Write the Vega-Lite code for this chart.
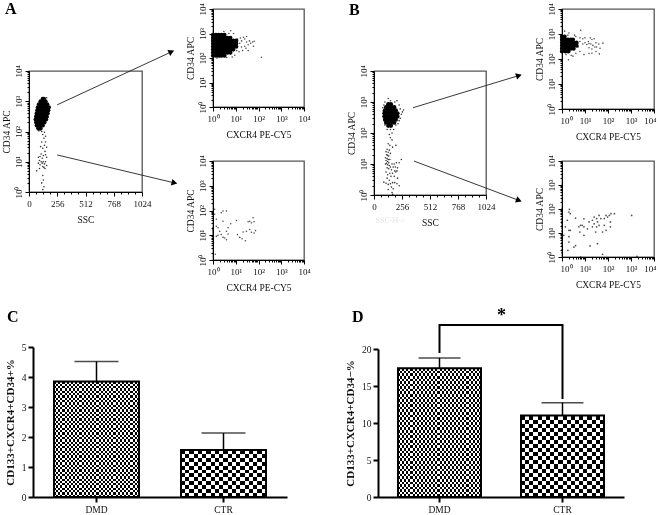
{
"$schema":"https://vega.github.io/schema/vega-lite/v6.json",
"padding":{"left":0,"top":0,"right":0,"bottom":0},
"background":"#ffffff",
"bounds":"flush","spacing":0,
"config":{"font":"Liberation Serif","view":{"stroke":null},"concat":{"spacing":0},
"axis":{"grid":false,"labelFont":"Liberation Serif","titleFont":"Liberation Serif","labelFontSize":9,"titleFontSize":9.5,"titleFontWeight":"normal","labelColor":"#111","titleColor":"#111","domainColor":"#000","tickColor":"#000","labelPadding":2,"titlePadding":3,"labelOverlap":false,"labelFlush":false},
"title":{"font":"Liberation Serif","fontWeight":"bold","fontSize":16,"anchor":"start","frame":"group","color":"#000"}},
"datasets":{
"aMainBlob":[{"x":85,"y":125},{"x":105,"y":125},{"x":70,"y":158},{"x":90,"y":158},{"x":110,"y":158},{"x":125,"y":158},{"x":65,"y":200},{"x":85,"y":200},{"x":105,"y":200},{"x":125,"y":200},{"x":140,"y":200},{"x":60,"y":250},{"x":85,"y":250},{"x":110,"y":250},{"x":135,"y":250},{"x":155,"y":250},{"x":65,"y":316},{"x":90,"y":316},{"x":115,"y":316},{"x":140,"y":316},{"x":160,"y":316},{"x":70,"y":398},{"x":95,"y":398},{"x":120,"y":398},{"x":145,"y":398},{"x":170,"y":398},{"x":75,"y":500},{"x":100,"y":500},{"x":125,"y":500},{"x":150,"y":500},{"x":175,"y":500},{"x":80,"y":630},{"x":105,"y":630},{"x":130,"y":630},{"x":155,"y":630},{"x":180,"y":630},{"x":90,"y":794},{"x":115,"y":794},{"x":140,"y":794},{"x":165,"y":794},{"x":105,"y":1000},{"x":130,"y":1000},{"x":150,"y":1000},{"x":125,"y":1200},{"x":135,"y":1200}],
"aMainDots":[{"x":140,"y":95},{"x":125,"y":80},{"x":150,"y":70},{"x":135,"y":60},{"x":115,"y":45},{"x":150,"y":45},{"x":140,"y":35},{"x":105,"y":32},{"x":160,"y":30},{"x":125,"y":28},{"x":145,"y":22},{"x":110,"y":18},{"x":150,"y":17},{"x":130,"y":16},{"x":100,"y":15},{"x":85,"y":14},{"x":120,"y":13},{"x":160,"y":14},{"x":95,"y":11},{"x":110,"y":10},{"x":130,"y":10},{"x":150,"y":10},{"x":85,"y":9},{"x":120,"y":9},{"x":140,"y":8.5},{"x":100,"y":8},{"x":160,"y":7.5},{"x":125,"y":7},{"x":135,"y":6.5},{"x":145,"y":6},{"x":95,"y":6},{"x":70,"y":5},{"x":125,"y":3.5},{"x":130,"y":2.5},{"x":115,"y":2},{"x":135,"y":1.5},{"x":125,"y":1.2},{"x":160,"y":1300},{"x":175,"y":300},{"x":180,"y":500},{"x":70,"y":130},{"x":90,"y":105},{"x":115,"y":100}],
"aTopBlob":[{"x":1,"y":125},{"x":1.35,"y":125},{"x":1.8,"y":125},{"x":2.4,"y":125},{"x":3.2,"y":125},{"x":1,"y":165},{"x":1.35,"y":165},{"x":1.8,"y":165},{"x":2.4,"y":165},{"x":3.2,"y":165},{"x":4.3,"y":165},{"x":5.8,"y":165},{"x":1,"y":220},{"x":1.35,"y":220},{"x":1.8,"y":220},{"x":2.4,"y":220},{"x":3.2,"y":220},{"x":4.3,"y":220},{"x":5.8,"y":220},{"x":7.8,"y":220},{"x":1,"y":290},{"x":1.35,"y":290},{"x":1.8,"y":290},{"x":2.4,"y":290},{"x":3.2,"y":290},{"x":4.3,"y":290},{"x":5.8,"y":290},{"x":7.8,"y":290},{"x":10.5,"y":290},{"x":1,"y":385},{"x":1.35,"y":385},{"x":1.8,"y":385},{"x":2.4,"y":385},{"x":3.2,"y":385},{"x":4.3,"y":385},{"x":5.8,"y":385},{"x":7.8,"y":385},{"x":10.5,"y":385},{"x":1,"y":510},{"x":1.35,"y":510},{"x":1.8,"y":510},{"x":2.4,"y":510},{"x":3.2,"y":510},{"x":4.3,"y":510},{"x":5.8,"y":510},{"x":7.8,"y":510},{"x":10.5,"y":510},{"x":1,"y":670},{"x":1.35,"y":670},{"x":1.8,"y":670},{"x":2.4,"y":670},{"x":3.2,"y":670},{"x":4.3,"y":670},{"x":5.8,"y":670},{"x":1,"y":880},{"x":1.35,"y":880},{"x":1.8,"y":880},{"x":2.4,"y":880},{"x":3.2,"y":880}],
"aTopDots":[{"x":12,"y":300},{"x":15,"y":400},{"x":18,"y":500},{"x":22,"y":700},{"x":25,"y":600},{"x":30,"y":750},{"x":35,"y":350},{"x":40,"y":500},{"x":20,"y":200},{"x":14,"y":180},{"x":12,"y":600},{"x":25,"y":300},{"x":30,"y":450},{"x":45,"y":400},{"x":55,"y":450},{"x":60,"y":300},{"x":65,"y":480},{"x":28,"y":250},{"x":18,"y":280},{"x":135,"y":107},{"x":8,"y":1000},{"x":6,"y":1300},{"x":3,"y":1200},{"x":5,"y":1000},{"x":9,"y":130},{"x":7,"y":110},{"x":2,"y":110},{"x":1.5,"y":100},{"x":4,"y":105},{"x":11,"y":200},{"x":16,"y":650},{"x":35,"y":200}],
"aBotDots":[{"x":1.18,"y":112},{"x":1.18,"y":70},{"x":1.4,"y":44},{"x":2.76,"y":95},{"x":3.9,"y":95},{"x":2.3,"y":81},{"x":2.76,"y":37},{"x":1.4,"y":23},{"x":1.66,"y":20},{"x":4.6,"y":20},{"x":3.9,"y":14.5},{"x":1.97,"y":14.5},{"x":2.3,"y":10.6},{"x":1.4,"y":9},{"x":2.76,"y":8.2},{"x":4.6,"y":11.3},{"x":3.3,"y":7.7},{"x":3.9,"y":6.6},{"x":1.66,"y":9.9},{"x":1.27,"y":1.7},{"x":10.7,"y":39.6},{"x":11.9,"y":10.6},{"x":15,"y":8.2},{"x":19,"y":7.2},{"x":26.7,"y":6},{"x":21,"y":13.6},{"x":29.5,"y":14.5},{"x":41,"y":17},{"x":35,"y":35},{"x":41,"y":37},{"x":49,"y":32},{"x":58,"y":51},{"x":64,"y":35},{"x":49,"y":13.2},{"x":64,"y":12.4},{"x":74,"y":15.4},{"x":6,"y":29},{"x":1,"y":20},{"x":1,"y":12.4},{"x":1,"y":7.7},{"x":1,"y":5.6},{"x":1,"y":15},{"x":1,"y":10},{"x":1,"y":17}],
"bMainBlob":[{"x":130,"y":170},{"x":155,"y":170},{"x":110,"y":215},{"x":135,"y":215},{"x":160,"y":215},{"x":185,"y":215},{"x":100,"y":270},{"x":125,"y":270},{"x":150,"y":270},{"x":175,"y":270},{"x":200,"y":270},{"x":95,"y":340},{"x":120,"y":340},{"x":145,"y":340},{"x":170,"y":340},{"x":195,"y":340},{"x":215,"y":340},{"x":95,"y":430},{"x":120,"y":430},{"x":145,"y":430},{"x":170,"y":430},{"x":195,"y":430},{"x":215,"y":430},{"x":100,"y":540},{"x":125,"y":540},{"x":150,"y":540},{"x":175,"y":540},{"x":200,"y":540},{"x":110,"y":680},{"x":135,"y":680},{"x":160,"y":680},{"x":185,"y":680},{"x":130,"y":850},{"x":155,"y":850}],
"bMainDots":[{"x":85,"y":500},{"x":80,"y":650},{"x":90,"y":800},{"x":100,"y":1000},{"x":130,"y":1300},{"x":150,"y":1100},{"x":190,"y":1000},{"x":210,"y":1100},{"x":230,"y":800},{"x":240,"y":600},{"x":260,"y":480},{"x":270,"y":550},{"x":250,"y":400},{"x":240,"y":300},{"x":230,"y":250},{"x":220,"y":200},{"x":200,"y":180},{"x":180,"y":130},{"x":150,"y":130},{"x":120,"y":130},{"x":100,"y":180},{"x":85,"y":350},{"x":165,"y":100},{"x":140,"y":90},{"x":150,"y":70},{"x":165,"y":60},{"x":130,"y":45},{"x":145,"y":40},{"x":200,"y":40},{"x":170,"y":35},{"x":120,"y":30},{"x":140,"y":28},{"x":110,"y":25},{"x":130,"y":24},{"x":150,"y":22},{"x":115,"y":20},{"x":125,"y":19},{"x":135,"y":18},{"x":105,"y":16},{"x":120,"y":15},{"x":130,"y":14},{"x":145,"y":14},{"x":110,"y":13},{"x":125,"y":12},{"x":135,"y":11},{"x":115,"y":10.5},{"x":105,"y":10},{"x":125,"y":9.5},{"x":140,"y":9},{"x":165,"y":10},{"x":185,"y":10},{"x":205,"y":11},{"x":230,"y":11},{"x":250,"y":14},{"x":150,"y":8},{"x":175,"y":8},{"x":195,"y":8},{"x":215,"y":7.5},{"x":120,"y":7.5},{"x":135,"y":7},{"x":160,"y":6.5},{"x":190,"y":6},{"x":210,"y":6},{"x":110,"y":5.5},{"x":145,"y":5},{"x":170,"y":5},{"x":200,"y":5.5},{"x":125,"y":4.5},{"x":155,"y":4},{"x":185,"y":4},{"x":215,"y":3.5},{"x":90,"y":2.6},{"x":110,"y":2.4},{"x":130,"y":2.2},{"x":150,"y":2.3},{"x":170,"y":2.5},{"x":190,"y":2.5},{"x":210,"y":2.3},{"x":230,"y":2},{"x":160,"y":1.8},{"x":175,"y":1.6},{"x":130,"y":1.5},{"x":165,"y":1.2},{"x":170,"y":1.05},{"x":120,"y":3.5},{"x":140,"y":3}],
"bTopBlob":[{"x":1,"y":200},{"x":1.4,"y":200},{"x":1.9,"y":200},{"x":1,"y":260},{"x":1.35,"y":260},{"x":1.8,"y":260},{"x":2.4,"y":260},{"x":3.2,"y":260},{"x":1,"y":340},{"x":1.35,"y":340},{"x":1.8,"y":340},{"x":2.4,"y":340},{"x":3.2,"y":340},{"x":4.3,"y":340},{"x":1,"y":450},{"x":1.35,"y":450},{"x":1.8,"y":450},{"x":2.4,"y":450},{"x":3.2,"y":450},{"x":4.3,"y":450},{"x":1,"y":590},{"x":1.35,"y":590},{"x":1.8,"y":590},{"x":2.4,"y":590},{"x":3,"y":590},{"x":1,"y":780},{"x":1.3,"y":780}],
"bTopDots":[{"x":1.3,"y":1300},{"x":2,"y":1100},{"x":6.5,"y":1400},{"x":1.8,"y":900},{"x":3.5,"y":900},{"x":4,"y":800},{"x":6,"y":700},{"x":8,"y":650},{"x":10,"y":700},{"x":14,"y":500},{"x":17,"y":700},{"x":20,"y":600},{"x":25,"y":650},{"x":30,"y":450},{"x":6,"y":500},{"x":8,"y":400},{"x":10,"y":450},{"x":12,"y":380},{"x":15,"y":420},{"x":18,"y":400},{"x":22,"y":350},{"x":27,"y":300},{"x":15,"y":280},{"x":20,"y":250},{"x":32,"y":300},{"x":40,"y":400},{"x":60,"y":430},{"x":45,"y":270},{"x":42,"y":160},{"x":30,"y":200},{"x":20,"y":170},{"x":15,"y":165},{"x":9,"y":150},{"x":6,"y":200},{"x":5,"y":300},{"x":4,"y":170},{"x":3,"y":130},{"x":2.5,"y":140},{"x":1.9,"y":94},{"x":1.5,"y":150}],
"bBotDots":[{"x":1,"y":100},{"x":1,"y":80},{"x":1,"y":65},{"x":1,"y":50},{"x":1,"y":40},{"x":1,"y":30},{"x":1,"y":25},{"x":1,"y":20},{"x":1,"y":16},{"x":1,"y":12},{"x":1,"y":9},{"x":1,"y":7},{"x":1,"y":5},{"x":1,"y":4},{"x":1,"y":3},{"x":1,"y":2},{"x":1,"y":1.5},{"x":2.1,"y":97},{"x":2,"y":75},{"x":2.3,"y":64},{"x":1.4,"y":18},{"x":1.7,"y":34},{"x":3.9,"y":42},{"x":2,"y":13},{"x":2.3,"y":13},{"x":1.2,"y":8},{"x":2,"y":7},{"x":2,"y":4.2},{"x":1.8,"y":1.9},{"x":3.3,"y":2.6},{"x":3.9,"y":3},{"x":6,"y":11},{"x":5.4,"y":18},{"x":6.4,"y":21},{"x":7.6,"y":21},{"x":9,"y":39},{"x":9,"y":18},{"x":9,"y":8},{"x":12.7,"y":15},{"x":15,"y":29},{"x":16.6,"y":2.9},{"x":21,"y":34},{"x":21,"y":18},{"x":25,"y":24},{"x":25,"y":46},{"x":29,"y":11},{"x":32,"y":40},{"x":32,"y":18},{"x":35,"y":29},{"x":35,"y":3.6},{"x":41,"y":54},{"x":41,"y":21},{"x":49,"y":40},{"x":58,"y":11},{"x":58,"y":1.3},{"x":69,"y":40},{"x":69,"y":21},{"x":82,"y":54},{"x":82,"y":13},{"x":96,"y":46},{"x":114,"y":54},{"x":127,"y":29},{"x":127,"y":18},{"x":135,"y":64},{"x":190,"y":64},{"x":1070,"y":54},{"x":1830,"y":1.07},{"x":6.4,"y":1}],
"aArrows":[{"x":255,"y":760,"x2":1291,"y2":43000,"a":65},{"x":255,"y":16.8,"x2":1318,"y2":2,"a":104}],
"bArrows":[{"x":356,"y":653,"x2":1325,"y2":7140,"a":73},{"x":366,"y":12.4,"x2":1325,"y2":0.67,"a":110}],
"cBars":[{"g":"DMD","v":3.85,"hi":4.52},{"g":"CTR","v":1.57,"hi":2.13}],
"dBars":[{"g":"DMD","v":17.4,"hi":18.8},{"g":"CTR","v":11.0,"hi":12.75}],
"bracket":[{"g":"DMD","y":19.46,"o":1},{"g":"DMD","y":23.24,"o":2},{"g":"CTR","y":23.24,"o":3},{"g":"CTR","y":13.24,"o":4}]
},
"vconcat":[
{"bounds":"flush","hconcat":[
 {"bounds":"flush","vconcat":[
  {"width":113,"height":62,"data":{"values":[]},"mark":{"type":"point","opacity":0},"encoding":{}},
  {"width":113,"height":121,"view":{"stroke":"#555","strokeWidth":1.3},
   "title":{"text":"A","dx":-24,"offset":33},
   "layer":[
    {"data":{"name":"aMainBlob"},"mark":{"type":"point","filled":true,"color":"#000","size":18,"opacity":1},
     "encoding":{"x":{"field":"x","type":"quantitative","scale":{"domain":[0,1024],"nice":false},"axis":{"title":"SSC","tickCount":100,"labelOverlap":false,"values":[0,64,128,192,256,320,384,448,512,576,640,704,768,832,896,960,1024],"labelExpr":"datum.value%256==0?datum.value:''","tickSize":{"condition":{"test":"datum.value%256==0","value":4},"value":2},"labelPadding":3,"titlePadding":6}},
      "y":{"field":"y","type":"quantitative","scale":{"type":"log","domain":[1,10000],"nice":false},"axis":{"title":"CD34 APC","labelOverlap":false,"values":[1,2,3,4,5,6,7,8,9,10,20,30,40,50,60,70,80,90,100,200,300,400,500,600,700,800,900,1000,2000,3000,4000,5000,6000,7000,8000,9000,10000],"labelExpr":"datum.value==1?'10⁰':datum.value==10?'10¹':datum.value==100?'10²':datum.value==1000?'10³':datum.value==10000?'10⁴':''","labelAngle":-90,"labelAlign":"center","labelBaseline":"bottom","tickSize":{"condition":{"test":"datum.value==1||datum.value==10||datum.value==100||datum.value==1000||datum.value==10000","value":4},"value":2}}}}},
    {"data":{"name":"aMainDots"},"mark":{"type":"point","filled":true,"color":"#000","size":2.5,"opacity":0.8},
     "encoding":{"x":{"field":"x","type":"quantitative"},"y":{"field":"y","type":"quantitative"}}},
    {"data":{"name":"aArrows"},"mark":{"type":"rule","color":"#222","strokeWidth":0.9},
     "encoding":{"x":{"field":"x","type":"quantitative"},"y":{"field":"y","type":"quantitative"},"x2":{"field":"x2"},"y2":{"field":"y2"}}},
    {"data":{"name":"aArrows"},"mark":{"type":"point","filled":true,"color":"#000","shape":"triangle-up","size":45,"opacity":1},
     "encoding":{"x":{"field":"x2","type":"quantitative"},"y":{"field":"y2","type":"quantitative"},"angle":{"field":"a","type":"quantitative","scale":null}}}
   ]}
 ]},
 {"width":184,"height":10,"data":{"values":[]},"mark":{"type":"point","opacity":0},"encoding":{}},
 {"bounds":"flush","vconcat":[
  {"width":91,"height":98,"view":{"stroke":"#555","strokeWidth":1.3},"data":{"name":"aTopBlob"},
   "layer":[
    {"mark":{"type":"point","filled":true,"color":"#000","size":18,"opacity":1},
     "encoding":{"x":{"field":"x","type":"quantitative","scale":{"type":"log","domain":[1,10000],"nice":false},"axis":{"title":"CXCR4 PE-CY5","labelOverlap":false,"values":[1,2,3,4,5,6,7,8,9,10,20,30,40,50,60,70,80,90,100,200,300,400,500,600,700,800,900,1000,2000,3000,4000,5000,6000,7000,8000,9000,10000],"labelExpr":"datum.value==1?'10⁰':datum.value==10?'10¹':datum.value==100?'10²':datum.value==1000?'10³':datum.value==10000?'10⁴':''","tickSize":{"condition":{"test":"datum.value==1||datum.value==10||datum.value==100||datum.value==1000||datum.value==10000","value":4},"value":2},"labelPadding":3,"titlePadding":6}},
      "y":{"field":"y","type":"quantitative","scale":{"type":"log","domain":[1,10000],"nice":false},"axis":{"title":"CD34 APC","labelOverlap":false,"values":[1,2,3,4,5,6,7,8,9,10,20,30,40,50,60,70,80,90,100,200,300,400,500,600,700,800,900,1000,2000,3000,4000,5000,6000,7000,8000,9000,10000],"labelExpr":"datum.value==1?'10⁰':datum.value==10?'10¹':datum.value==100?'10²':datum.value==1000?'10³':datum.value==10000?'10⁴':''","labelAngle":-90,"labelAlign":"center","labelBaseline":"bottom","tickSize":{"condition":{"test":"datum.value==1||datum.value==10||datum.value==100||datum.value==1000||datum.value==10000","value":4},"value":2}}}}},
    {"data":{"name":"aTopDots"},"mark":{"type":"point","filled":true,"color":"#000","size":2.5,"opacity":0.7},
     "encoding":{"x":{"field":"x","type":"quantitative"},"y":{"field":"y","type":"quantitative"}}}
   ]},
  {"width":91,"height":54,"data":{"values":[]},"mark":{"type":"point","opacity":0},"encoding":{}},
  {"width":91,"height":99,"view":{"stroke":"#555","strokeWidth":1.3},"data":{"name":"aBotDots"},
   "mark":{"type":"point","filled":true,"color":"#000","size":2.5,"opacity":0.7},
   "encoding":{"x":{"field":"x","type":"quantitative","scale":{"type":"log","domain":[1,10000],"nice":false},"axis":{"title":"CXCR4 PE-CY5","labelOverlap":false,"values":[1,2,3,4,5,6,7,8,9,10,20,30,40,50,60,70,80,90,100,200,300,400,500,600,700,800,900,1000,2000,3000,4000,5000,6000,7000,8000,9000,10000],"labelExpr":"datum.value==1?'10⁰':datum.value==10?'10¹':datum.value==100?'10²':datum.value==1000?'10³':datum.value==10000?'10⁴':''","tickSize":{"condition":{"test":"datum.value==1||datum.value==10||datum.value==100||datum.value==1000||datum.value==10000","value":4},"value":2},"labelPadding":3,"titlePadding":6}},
    "y":{"field":"y","type":"quantitative","scale":{"type":"log","domain":[1,10000],"nice":false},"axis":{"title":"CD34 APC","labelOverlap":false,"values":[1,2,3,4,5,6,7,8,9,10,20,30,40,50,60,70,80,90,100,200,300,400,500,600,700,800,900,1000,2000,3000,4000,5000,6000,7000,8000,9000,10000],"labelExpr":"datum.value==1?'10⁰':datum.value==10?'10¹':datum.value==100?'10²':datum.value==1000?'10³':datum.value==10000?'10⁴':''","labelAngle":-90,"labelAlign":"center","labelBaseline":"bottom","tickSize":{"condition":{"test":"datum.value==1||datum.value==10||datum.value==100||datum.value==1000||datum.value==10000","value":4},"value":2}}}}}
 ]},
 {"width":161,"height":10,"data":{"values":[]},"mark":{"type":"point","opacity":0},"encoding":{}},
 {"bounds":"flush","vconcat":[
  {"width":112,"height":62,"data":{"values":[]},"mark":{"type":"point","opacity":0},"encoding":{}},
  {"width":112,"height":124,"view":{"stroke":"#555","strokeWidth":1.3},
   "title":{"text":"B","dx":-25,"offset":47},
   "layer":[
    {"data":{"name":"bMainBlob"},"mark":{"type":"point","filled":true,"color":"#000","size":18,"opacity":1},
     "encoding":{"x":{"field":"x","type":"quantitative","scale":{"domain":[0,1024],"nice":false},"axis":{"title":"SSC","tickCount":100,"labelOverlap":false,"values":[0,64,128,192,256,320,384,448,512,576,640,704,768,832,896,960,1024],"labelExpr":"datum.value%256==0?datum.value:''","tickSize":{"condition":{"test":"datum.value%256==0","value":4},"value":2},"labelPadding":3,"titlePadding":6}},
      "y":{"field":"y","type":"quantitative","scale":{"type":"log","domain":[1,10000],"nice":false},"axis":{"title":"CD34 APC","labelOverlap":false,"values":[1,2,3,4,5,6,7,8,9,10,20,30,40,50,60,70,80,90,100,200,300,400,500,600,700,800,900,1000,2000,3000,4000,5000,6000,7000,8000,9000,10000],"labelExpr":"datum.value==1?'10⁰':datum.value==10?'10¹':datum.value==100?'10²':datum.value==1000?'10³':datum.value==10000?'10⁴':''","labelAngle":-90,"labelAlign":"center","labelBaseline":"bottom","tickSize":{"condition":{"test":"datum.value==1||datum.value==10||datum.value==100||datum.value==1000||datum.value==10000","value":4},"value":2}}}}},
    {"data":{"name":"bMainDots"},"mark":{"type":"point","filled":true,"color":"#000","size":2.5,"opacity":0.8},
     "encoding":{"x":{"field":"x","type":"quantitative"},"y":{"field":"y","type":"quantitative"}}},
    {"data":{"name":"bArrows"},"mark":{"type":"rule","color":"#222","strokeWidth":0.9},
     "encoding":{"x":{"field":"x","type":"quantitative"},"y":{"field":"y","type":"quantitative"},"x2":{"field":"x2"},"y2":{"field":"y2"}}},
    {"data":{"name":"bArrows"},"mark":{"type":"point","filled":true,"color":"#000","shape":"triangle-up","size":45,"opacity":1},
     "encoding":{"x":{"field":"x2","type":"quantitative"},"y":{"field":"y2","type":"quantitative"},"angle":{"field":"a","type":"quantitative","scale":null}}},
    {"data":{"values":[{"x":150,"y":0.15,"t":"SSC-H->"}]},"mark":{"type":"text","color":"#e2e2e2","fontSize":8},
     "encoding":{"x":{"field":"x","type":"quantitative"},"y":{"field":"y","type":"quantitative"},"text":{"field":"t"}}}
   ]}
 ]},
 {"width":188,"height":10,"data":{"values":[]},"mark":{"type":"point","opacity":0},"encoding":{}},
 {"bounds":"flush","vconcat":[
  {"width":92,"height":100,"view":{"stroke":"#555","strokeWidth":1.3},"data":{"name":"bTopBlob"},
   "layer":[
    {"mark":{"type":"point","filled":true,"color":"#000","size":18,"opacity":1},
     "encoding":{"x":{"field":"x","type":"quantitative","scale":{"type":"log","domain":[1,10000],"nice":false},"axis":{"title":"CXCR4 PE-CY5","labelOverlap":false,"labelFlush":true,"labelFlushOffset":2,"values":[1,2,3,4,5,6,7,8,9,10,20,30,40,50,60,70,80,90,100,200,300,400,500,600,700,800,900,1000,2000,3000,4000,5000,6000,7000,8000,9000,10000],"labelExpr":"datum.value==1?'10⁰':datum.value==10?'10¹':datum.value==100?'10²':datum.value==1000?'10³':datum.value==10000?'10⁴':''","tickSize":{"condition":{"test":"datum.value==1||datum.value==10||datum.value==100||datum.value==1000||datum.value==10000","value":4},"value":2},"labelPadding":3,"titlePadding":6}},
      "y":{"field":"y","type":"quantitative","scale":{"type":"log","domain":[1,10000],"nice":false},"axis":{"title":"CD34 APC","labelOverlap":false,"values":[1,2,3,4,5,6,7,8,9,10,20,30,40,50,60,70,80,90,100,200,300,400,500,600,700,800,900,1000,2000,3000,4000,5000,6000,7000,8000,9000,10000],"labelExpr":"datum.value==1?'10⁰':datum.value==10?'10¹':datum.value==100?'10²':datum.value==1000?'10³':datum.value==10000?'10⁴':''","labelAngle":-90,"labelAlign":"center","labelBaseline":"bottom","tickSize":{"condition":{"test":"datum.value==1||datum.value==10||datum.value==100||datum.value==1000||datum.value==10000","value":4},"value":2}}}}},
    {"data":{"name":"bTopDots"},"mark":{"type":"point","filled":true,"color":"#000","size":2.5,"opacity":0.7},
     "encoding":{"x":{"field":"x","type":"quantitative"},"y":{"field":"y","type":"quantitative"}}}
   ]},
  {"width":92,"height":52,"data":{"values":[]},"mark":{"type":"point","opacity":0},"encoding":{}},
  {"width":92,"height":96,"view":{"stroke":"#555","strokeWidth":1.3},"data":{"name":"bBotDots"},
   "mark":{"type":"point","filled":true,"color":"#000","size":3,"opacity":0.7},
   "encoding":{"x":{"field":"x","type":"quantitative","scale":{"type":"log","domain":[1,10000],"nice":false},"axis":{"title":"CXCR4 PE-CY5","labelOverlap":false,"labelFlush":true,"labelFlushOffset":2,"values":[1,2,3,4,5,6,7,8,9,10,20,30,40,50,60,70,80,90,100,200,300,400,500,600,700,800,900,1000,2000,3000,4000,5000,6000,7000,8000,9000,10000],"labelExpr":"datum.value==1?'10⁰':datum.value==10?'10¹':datum.value==100?'10²':datum.value==1000?'10³':datum.value==10000?'10⁴':''","tickSize":{"condition":{"test":"datum.value==1||datum.value==10||datum.value==100||datum.value==1000||datum.value==10000","value":4},"value":2},"labelPadding":3,"titlePadding":6}},
    "y":{"field":"y","type":"quantitative","scale":{"type":"log","domain":[1,10000],"nice":false},"axis":{"title":"CD34 APC","labelOverlap":false,"values":[1,2,3,4,5,6,7,8,9,10,20,30,40,50,60,70,80,90,100,200,300,400,500,600,700,800,900,1000,2000,3000,4000,5000,6000,7000,8000,9000,10000],"labelExpr":"datum.value==1?'10⁰':datum.value==10?'10¹':datum.value==100?'10²':datum.value==1000?'10³':datum.value==10000?'10⁴':''","labelAngle":-90,"labelAlign":"center","labelBaseline":"bottom","tickSize":{"condition":{"test":"datum.value==1||datum.value==10||datum.value==100||datum.value==1000||datum.value==10000","value":4},"value":2}}}}}
 ]}
]},
{"width":10,"height":338,"data":{"values":[]},"mark":{"type":"point","opacity":0},"encoding":{}},
{"bounds":"flush","hconcat":[
 {"width":4,"height":10,"data":{"values":[]},"mark":{"type":"point","opacity":0},"encoding":{}},
 {"width":254,"height":150,"data":{"name":"cBars"},
  "title":{"text":"C","dx":-26,"offset":17},
  "encoding":{"x":{"field":"g","type":"nominal","sort":["DMD","CTR"],"scale":{"paddingInner":0,"paddingOuter":0},"axis":{"title":null,"labelAngle":0,"domainWidth":2,"tickWidth":2,"tickSize":5,"labelFontSize":9.5}}},
  "layer":[
   {"transform":[{"filter":"datum.g=='DMD'"}],"mark":{"type":"bar","size":85,"fill":{"gradient":"linear","x1":0,"y1":0,"x2":0,"y2":1,"stops":[{"offset":0,"color":"#000"},{"offset":0.02,"color":"#000"},{"offset":0.02,"color":"#fff"},{"offset":0.04,"color":"#fff"},{"offset":0.04,"color":"#000"},{"offset":0.06,"color":"#000"},{"offset":0.06,"color":"#fff"},{"offset":0.08,"color":"#fff"},{"offset":0.08,"color":"#000"},{"offset":0.1,"color":"#000"},{"offset":0.1,"color":"#fff"},{"offset":0.12,"color":"#fff"},{"offset":0.12,"color":"#000"},{"offset":0.14,"color":"#000"},{"offset":0.14,"color":"#fff"},{"offset":0.16,"color":"#fff"},{"offset":0.16,"color":"#000"},{"offset":0.18,"color":"#000"},{"offset":0.18,"color":"#fff"},{"offset":0.2,"color":"#fff"},{"offset":0.2,"color":"#000"},{"offset":0.22,"color":"#000"},{"offset":0.22,"color":"#fff"},{"offset":0.24,"color":"#fff"},{"offset":0.24,"color":"#000"},{"offset":0.26,"color":"#000"},{"offset":0.26,"color":"#fff"},{"offset":0.28,"color":"#fff"},{"offset":0.28,"color":"#000"},{"offset":0.3,"color":"#000"},{"offset":0.3,"color":"#fff"},{"offset":0.32,"color":"#fff"},{"offset":0.32,"color":"#000"},{"offset":0.34,"color":"#000"},{"offset":0.34,"color":"#fff"},{"offset":0.36,"color":"#fff"},{"offset":0.36,"color":"#000"},{"offset":0.38,"color":"#000"},{"offset":0.38,"color":"#fff"},{"offset":0.4,"color":"#fff"},{"offset":0.4,"color":"#000"},{"offset":0.42,"color":"#000"},{"offset":0.42,"color":"#fff"},{"offset":0.44,"color":"#fff"},{"offset":0.44,"color":"#000"},{"offset":0.46,"color":"#000"},{"offset":0.46,"color":"#fff"},{"offset":0.48,"color":"#fff"},{"offset":0.48,"color":"#000"},{"offset":0.5,"color":"#000"},{"offset":0.5,"color":"#fff"},{"offset":0.52,"color":"#fff"},{"offset":0.52,"color":"#000"},{"offset":0.54,"color":"#000"},{"offset":0.54,"color":"#fff"},{"offset":0.56,"color":"#fff"},{"offset":0.56,"color":"#000"},{"offset":0.58,"color":"#000"},{"offset":0.58,"color":"#fff"},{"offset":0.6,"color":"#fff"},{"offset":0.6,"color":"#000"},{"offset":0.62,"color":"#000"},{"offset":0.62,"color":"#fff"},{"offset":0.64,"color":"#fff"},{"offset":0.64,"color":"#000"},{"offset":0.66,"color":"#000"},{"offset":0.66,"color":"#fff"},{"offset":0.68,"color":"#fff"},{"offset":0.68,"color":"#000"},{"offset":0.7,"color":"#000"},{"offset":0.7,"color":"#fff"},{"offset":0.72,"color":"#fff"},{"offset":0.72,"color":"#000"},{"offset":0.74,"color":"#000"},{"offset":0.74,"color":"#fff"},{"offset":0.76,"color":"#fff"},{"offset":0.76,"color":"#000"},{"offset":0.78,"color":"#000"},{"offset":0.78,"color":"#fff"},{"offset":0.8,"color":"#fff"},{"offset":0.8,"color":"#000"},{"offset":0.82,"color":"#000"},{"offset":0.82,"color":"#fff"},{"offset":0.84,"color":"#fff"},{"offset":0.84,"color":"#000"},{"offset":0.86,"color":"#000"},{"offset":0.86,"color":"#fff"},{"offset":0.88,"color":"#fff"},{"offset":0.88,"color":"#000"},{"offset":0.9,"color":"#000"},{"offset":0.9,"color":"#fff"},{"offset":0.92,"color":"#fff"},{"offset":0.92,"color":"#000"},{"offset":0.94,"color":"#000"},{"offset":0.94,"color":"#fff"},{"offset":0.96,"color":"#fff"},{"offset":0.96,"color":"#000"},{"offset":0.98,"color":"#000"},{"offset":0.98,"color":"#fff"},{"offset":1,"color":"#fff"}]}},
    "encoding":{"y":{"field":"v","type":"quantitative","scale":{"domain":[0,5],"nice":false},"axis":{"title":"CD133+CXCR4+CD34+%","format":"d","tickCount":100,"labelOverlap":false,"labelFontSize":9.5,"titleFontWeight":"bold","titleFontSize":11,"titlePadding":6,"values":[0,1,2,3,4,5],"domainWidth":2,"tickWidth":2,"tickSize":5}}}},
   {"transform":[{"filter":"datum.g=='DMD'"}],"mark":{"type":"bar","size":85,"blend":"difference","fill":{"gradient":"linear","x1":0,"y1":0,"x2":1,"y2":0,"stops":[{"offset":0,"color":"#000"},{"offset":0.025,"color":"#000"},{"offset":0.025,"color":"#fff"},{"offset":0.05,"color":"#fff"},{"offset":0.05,"color":"#000"},{"offset":0.075,"color":"#000"},{"offset":0.075,"color":"#fff"},{"offset":0.1,"color":"#fff"},{"offset":0.1,"color":"#000"},{"offset":0.125,"color":"#000"},{"offset":0.125,"color":"#fff"},{"offset":0.15,"color":"#fff"},{"offset":0.15,"color":"#000"},{"offset":0.175,"color":"#000"},{"offset":0.175,"color":"#fff"},{"offset":0.2,"color":"#fff"},{"offset":0.2,"color":"#000"},{"offset":0.225,"color":"#000"},{"offset":0.225,"color":"#fff"},{"offset":0.25,"color":"#fff"},{"offset":0.25,"color":"#000"},{"offset":0.275,"color":"#000"},{"offset":0.275,"color":"#fff"},{"offset":0.3,"color":"#fff"},{"offset":0.3,"color":"#000"},{"offset":0.325,"color":"#000"},{"offset":0.325,"color":"#fff"},{"offset":0.35,"color":"#fff"},{"offset":0.35,"color":"#000"},{"offset":0.375,"color":"#000"},{"offset":0.375,"color":"#fff"},{"offset":0.4,"color":"#fff"},{"offset":0.4,"color":"#000"},{"offset":0.425,"color":"#000"},{"offset":0.425,"color":"#fff"},{"offset":0.45,"color":"#fff"},{"offset":0.45,"color":"#000"},{"offset":0.475,"color":"#000"},{"offset":0.475,"color":"#fff"},{"offset":0.5,"color":"#fff"},{"offset":0.5,"color":"#000"},{"offset":0.525,"color":"#000"},{"offset":0.525,"color":"#fff"},{"offset":0.55,"color":"#fff"},{"offset":0.55,"color":"#000"},{"offset":0.575,"color":"#000"},{"offset":0.575,"color":"#fff"},{"offset":0.6,"color":"#fff"},{"offset":0.6,"color":"#000"},{"offset":0.625,"color":"#000"},{"offset":0.625,"color":"#fff"},{"offset":0.65,"color":"#fff"},{"offset":0.65,"color":"#000"},{"offset":0.675,"color":"#000"},{"offset":0.675,"color":"#fff"},{"offset":0.7,"color":"#fff"},{"offset":0.7,"color":"#000"},{"offset":0.725,"color":"#000"},{"offset":0.725,"color":"#fff"},{"offset":0.75,"color":"#fff"},{"offset":0.75,"color":"#000"},{"offset":0.775,"color":"#000"},{"offset":0.775,"color":"#fff"},{"offset":0.8,"color":"#fff"},{"offset":0.8,"color":"#000"},{"offset":0.825,"color":"#000"},{"offset":0.825,"color":"#fff"},{"offset":0.85,"color":"#fff"},{"offset":0.85,"color":"#000"},{"offset":0.875,"color":"#000"},{"offset":0.875,"color":"#fff"},{"offset":0.9,"color":"#fff"},{"offset":0.9,"color":"#000"},{"offset":0.925,"color":"#000"},{"offset":0.925,"color":"#fff"},{"offset":0.95,"color":"#fff"},{"offset":0.95,"color":"#000"},{"offset":0.975,"color":"#000"},{"offset":0.975,"color":"#fff"},{"offset":1,"color":"#fff"}]}},
    "encoding":{"y":{"field":"v","type":"quantitative"}}},
   {"transform":[{"filter":"datum.g=='CTR'"}],"mark":{"type":"bar","size":85,"fill":{"gradient":"linear","x1":0,"y1":0,"x2":0,"y2":1,"stops":[{"offset":0,"color":"#000"},{"offset":0.0833,"color":"#000"},{"offset":0.0833,"color":"#fff"},{"offset":0.1667,"color":"#fff"},{"offset":0.1667,"color":"#000"},{"offset":0.25,"color":"#000"},{"offset":0.25,"color":"#fff"},{"offset":0.3333,"color":"#fff"},{"offset":0.3333,"color":"#000"},{"offset":0.4167,"color":"#000"},{"offset":0.4167,"color":"#fff"},{"offset":0.5,"color":"#fff"},{"offset":0.5,"color":"#000"},{"offset":0.5833,"color":"#000"},{"offset":0.5833,"color":"#fff"},{"offset":0.6667,"color":"#fff"},{"offset":0.6667,"color":"#000"},{"offset":0.75,"color":"#000"},{"offset":0.75,"color":"#fff"},{"offset":0.8333,"color":"#fff"},{"offset":0.8333,"color":"#000"},{"offset":0.9167,"color":"#000"},{"offset":0.9167,"color":"#fff"},{"offset":1,"color":"#fff"}]}},
    "encoding":{"y":{"field":"v","type":"quantitative"}}},
   {"transform":[{"filter":"datum.g=='CTR'"}],"mark":{"type":"bar","size":85,"blend":"difference","fill":{"gradient":"linear","x1":0,"y1":0,"x2":1,"y2":0,"stops":[{"offset":0,"color":"#000"},{"offset":0.05,"color":"#000"},{"offset":0.05,"color":"#fff"},{"offset":0.1,"color":"#fff"},{"offset":0.1,"color":"#000"},{"offset":0.15,"color":"#000"},{"offset":0.15,"color":"#fff"},{"offset":0.2,"color":"#fff"},{"offset":0.2,"color":"#000"},{"offset":0.25,"color":"#000"},{"offset":0.25,"color":"#fff"},{"offset":0.3,"color":"#fff"},{"offset":0.3,"color":"#000"},{"offset":0.35,"color":"#000"},{"offset":0.35,"color":"#fff"},{"offset":0.4,"color":"#fff"},{"offset":0.4,"color":"#000"},{"offset":0.45,"color":"#000"},{"offset":0.45,"color":"#fff"},{"offset":0.5,"color":"#fff"},{"offset":0.5,"color":"#000"},{"offset":0.55,"color":"#000"},{"offset":0.55,"color":"#fff"},{"offset":0.6,"color":"#fff"},{"offset":0.6,"color":"#000"},{"offset":0.65,"color":"#000"},{"offset":0.65,"color":"#fff"},{"offset":0.7,"color":"#fff"},{"offset":0.7,"color":"#000"},{"offset":0.75,"color":"#000"},{"offset":0.75,"color":"#fff"},{"offset":0.8,"color":"#fff"},{"offset":0.8,"color":"#000"},{"offset":0.85,"color":"#000"},{"offset":0.85,"color":"#fff"},{"offset":0.9,"color":"#fff"},{"offset":0.9,"color":"#000"},{"offset":0.95,"color":"#000"},{"offset":0.95,"color":"#fff"},{"offset":1,"color":"#fff"}]}},
    "encoding":{"y":{"field":"v","type":"quantitative"}}},
   {"mark":{"type":"bar","size":85,"fill":"transparent","stroke":"#000","strokeWidth":2},"encoding":{"y":{"field":"v","type":"quantitative"}}},
   {"mark":{"type":"rule","color":"#000","strokeWidth":1.5},"encoding":{"y":{"field":"v","type":"quantitative"},"y2":{"field":"hi"}}},
   {"mark":{"type":"tick","color":"#000","size":44,"thickness":1.5},"encoding":{"y":{"field":"hi","type":"quantitative"}}}
  ]},
 {"width":91,"height":10,"data":{"values":[]},"mark":{"type":"point","opacity":0},"encoding":{}},
 {"bounds":"flush","vconcat":[
  {"width":246,"height":2,"data":{"values":[]},"mark":{"type":"point","opacity":0},"encoding":{}},
  {"width":246,"height":148,"data":{"name":"dBars"},
  "title":{"text":"D","dx":-26,"offset":-18},
  "encoding":{"x":{"field":"g","type":"nominal","sort":["DMD","CTR"],"scale":{"paddingInner":0,"paddingOuter":0},"axis":{"title":null,"labelAngle":0,"domainWidth":2,"tickWidth":2,"tickSize":5,"labelFontSize":9.5}}},
  "layer":[
   {"transform":[{"filter":"datum.g=='DMD'"}],"mark":{"type":"bar","size":83,"fill":{"gradient":"linear","x1":0,"y1":0,"x2":0,"y2":1,"stops":[{"offset":0,"color":"#000"},{"offset":0.02,"color":"#000"},{"offset":0.02,"color":"#fff"},{"offset":0.04,"color":"#fff"},{"offset":0.04,"color":"#000"},{"offset":0.06,"color":"#000"},{"offset":0.06,"color":"#fff"},{"offset":0.08,"color":"#fff"},{"offset":0.08,"color":"#000"},{"offset":0.1,"color":"#000"},{"offset":0.1,"color":"#fff"},{"offset":0.12,"color":"#fff"},{"offset":0.12,"color":"#000"},{"offset":0.14,"color":"#000"},{"offset":0.14,"color":"#fff"},{"offset":0.16,"color":"#fff"},{"offset":0.16,"color":"#000"},{"offset":0.18,"color":"#000"},{"offset":0.18,"color":"#fff"},{"offset":0.2,"color":"#fff"},{"offset":0.2,"color":"#000"},{"offset":0.22,"color":"#000"},{"offset":0.22,"color":"#fff"},{"offset":0.24,"color":"#fff"},{"offset":0.24,"color":"#000"},{"offset":0.26,"color":"#000"},{"offset":0.26,"color":"#fff"},{"offset":0.28,"color":"#fff"},{"offset":0.28,"color":"#000"},{"offset":0.3,"color":"#000"},{"offset":0.3,"color":"#fff"},{"offset":0.32,"color":"#fff"},{"offset":0.32,"color":"#000"},{"offset":0.34,"color":"#000"},{"offset":0.34,"color":"#fff"},{"offset":0.36,"color":"#fff"},{"offset":0.36,"color":"#000"},{"offset":0.38,"color":"#000"},{"offset":0.38,"color":"#fff"},{"offset":0.4,"color":"#fff"},{"offset":0.4,"color":"#000"},{"offset":0.42,"color":"#000"},{"offset":0.42,"color":"#fff"},{"offset":0.44,"color":"#fff"},{"offset":0.44,"color":"#000"},{"offset":0.46,"color":"#000"},{"offset":0.46,"color":"#fff"},{"offset":0.48,"color":"#fff"},{"offset":0.48,"color":"#000"},{"offset":0.5,"color":"#000"},{"offset":0.5,"color":"#fff"},{"offset":0.52,"color":"#fff"},{"offset":0.52,"color":"#000"},{"offset":0.54,"color":"#000"},{"offset":0.54,"color":"#fff"},{"offset":0.56,"color":"#fff"},{"offset":0.56,"color":"#000"},{"offset":0.58,"color":"#000"},{"offset":0.58,"color":"#fff"},{"offset":0.6,"color":"#fff"},{"offset":0.6,"color":"#000"},{"offset":0.62,"color":"#000"},{"offset":0.62,"color":"#fff"},{"offset":0.64,"color":"#fff"},{"offset":0.64,"color":"#000"},{"offset":0.66,"color":"#000"},{"offset":0.66,"color":"#fff"},{"offset":0.68,"color":"#fff"},{"offset":0.68,"color":"#000"},{"offset":0.7,"color":"#000"},{"offset":0.7,"color":"#fff"},{"offset":0.72,"color":"#fff"},{"offset":0.72,"color":"#000"},{"offset":0.74,"color":"#000"},{"offset":0.74,"color":"#fff"},{"offset":0.76,"color":"#fff"},{"offset":0.76,"color":"#000"},{"offset":0.78,"color":"#000"},{"offset":0.78,"color":"#fff"},{"offset":0.8,"color":"#fff"},{"offset":0.8,"color":"#000"},{"offset":0.82,"color":"#000"},{"offset":0.82,"color":"#fff"},{"offset":0.84,"color":"#fff"},{"offset":0.84,"color":"#000"},{"offset":0.86,"color":"#000"},{"offset":0.86,"color":"#fff"},{"offset":0.88,"color":"#fff"},{"offset":0.88,"color":"#000"},{"offset":0.9,"color":"#000"},{"offset":0.9,"color":"#fff"},{"offset":0.92,"color":"#fff"},{"offset":0.92,"color":"#000"},{"offset":0.94,"color":"#000"},{"offset":0.94,"color":"#fff"},{"offset":0.96,"color":"#fff"},{"offset":0.96,"color":"#000"},{"offset":0.98,"color":"#000"},{"offset":0.98,"color":"#fff"},{"offset":1,"color":"#fff"}]}},
    "encoding":{"y":{"field":"v","type":"quantitative","scale":{"domain":[0,20],"nice":false},"axis":{"title":"CD133+CXCR4+CD34−%","format":"d","tickCount":100,"labelOverlap":false,"labelFontSize":9.5,"titleFontWeight":"bold","titleFontSize":11,"titlePadding":6,"values":[0,5,10,15,20],"domainWidth":2,"tickWidth":2,"tickSize":5}}}},
   {"transform":[{"filter":"datum.g=='DMD'"}],"mark":{"type":"bar","size":83,"blend":"difference","fill":{"gradient":"linear","x1":0,"y1":0,"x2":1,"y2":0,"stops":[{"offset":0,"color":"#000"},{"offset":0.025,"color":"#000"},{"offset":0.025,"color":"#fff"},{"offset":0.05,"color":"#fff"},{"offset":0.05,"color":"#000"},{"offset":0.075,"color":"#000"},{"offset":0.075,"color":"#fff"},{"offset":0.1,"color":"#fff"},{"offset":0.1,"color":"#000"},{"offset":0.125,"color":"#000"},{"offset":0.125,"color":"#fff"},{"offset":0.15,"color":"#fff"},{"offset":0.15,"color":"#000"},{"offset":0.175,"color":"#000"},{"offset":0.175,"color":"#fff"},{"offset":0.2,"color":"#fff"},{"offset":0.2,"color":"#000"},{"offset":0.225,"color":"#000"},{"offset":0.225,"color":"#fff"},{"offset":0.25,"color":"#fff"},{"offset":0.25,"color":"#000"},{"offset":0.275,"color":"#000"},{"offset":0.275,"color":"#fff"},{"offset":0.3,"color":"#fff"},{"offset":0.3,"color":"#000"},{"offset":0.325,"color":"#000"},{"offset":0.325,"color":"#fff"},{"offset":0.35,"color":"#fff"},{"offset":0.35,"color":"#000"},{"offset":0.375,"color":"#000"},{"offset":0.375,"color":"#fff"},{"offset":0.4,"color":"#fff"},{"offset":0.4,"color":"#000"},{"offset":0.425,"color":"#000"},{"offset":0.425,"color":"#fff"},{"offset":0.45,"color":"#fff"},{"offset":0.45,"color":"#000"},{"offset":0.475,"color":"#000"},{"offset":0.475,"color":"#fff"},{"offset":0.5,"color":"#fff"},{"offset":0.5,"color":"#000"},{"offset":0.525,"color":"#000"},{"offset":0.525,"color":"#fff"},{"offset":0.55,"color":"#fff"},{"offset":0.55,"color":"#000"},{"offset":0.575,"color":"#000"},{"offset":0.575,"color":"#fff"},{"offset":0.6,"color":"#fff"},{"offset":0.6,"color":"#000"},{"offset":0.625,"color":"#000"},{"offset":0.625,"color":"#fff"},{"offset":0.65,"color":"#fff"},{"offset":0.65,"color":"#000"},{"offset":0.675,"color":"#000"},{"offset":0.675,"color":"#fff"},{"offset":0.7,"color":"#fff"},{"offset":0.7,"color":"#000"},{"offset":0.725,"color":"#000"},{"offset":0.725,"color":"#fff"},{"offset":0.75,"color":"#fff"},{"offset":0.75,"color":"#000"},{"offset":0.775,"color":"#000"},{"offset":0.775,"color":"#fff"},{"offset":0.8,"color":"#fff"},{"offset":0.8,"color":"#000"},{"offset":0.825,"color":"#000"},{"offset":0.825,"color":"#fff"},{"offset":0.85,"color":"#fff"},{"offset":0.85,"color":"#000"},{"offset":0.875,"color":"#000"},{"offset":0.875,"color":"#fff"},{"offset":0.9,"color":"#fff"},{"offset":0.9,"color":"#000"},{"offset":0.925,"color":"#000"},{"offset":0.925,"color":"#fff"},{"offset":0.95,"color":"#fff"},{"offset":0.95,"color":"#000"},{"offset":0.975,"color":"#000"},{"offset":0.975,"color":"#fff"},{"offset":1,"color":"#fff"}]}},
    "encoding":{"y":{"field":"v","type":"quantitative"}}},
   {"transform":[{"filter":"datum.g=='CTR'"}],"mark":{"type":"bar","size":83,"fill":{"gradient":"linear","x1":0,"y1":0,"x2":0,"y2":1,"stops":[{"offset":0,"color":"#000"},{"offset":0.05,"color":"#000"},{"offset":0.05,"color":"#fff"},{"offset":0.1,"color":"#fff"},{"offset":0.1,"color":"#000"},{"offset":0.15,"color":"#000"},{"offset":0.15,"color":"#fff"},{"offset":0.2,"color":"#fff"},{"offset":0.2,"color":"#000"},{"offset":0.25,"color":"#000"},{"offset":0.25,"color":"#fff"},{"offset":0.3,"color":"#fff"},{"offset":0.3,"color":"#000"},{"offset":0.35,"color":"#000"},{"offset":0.35,"color":"#fff"},{"offset":0.4,"color":"#fff"},{"offset":0.4,"color":"#000"},{"offset":0.45,"color":"#000"},{"offset":0.45,"color":"#fff"},{"offset":0.5,"color":"#fff"},{"offset":0.5,"color":"#000"},{"offset":0.55,"color":"#000"},{"offset":0.55,"color":"#fff"},{"offset":0.6,"color":"#fff"},{"offset":0.6,"color":"#000"},{"offset":0.65,"color":"#000"},{"offset":0.65,"color":"#fff"},{"offset":0.7,"color":"#fff"},{"offset":0.7,"color":"#000"},{"offset":0.75,"color":"#000"},{"offset":0.75,"color":"#fff"},{"offset":0.8,"color":"#fff"},{"offset":0.8,"color":"#000"},{"offset":0.85,"color":"#000"},{"offset":0.85,"color":"#fff"},{"offset":0.9,"color":"#fff"},{"offset":0.9,"color":"#000"},{"offset":0.95,"color":"#000"},{"offset":0.95,"color":"#fff"},{"offset":1,"color":"#fff"}]}},
    "encoding":{"y":{"field":"v","type":"quantitative"}}},
   {"transform":[{"filter":"datum.g=='CTR'"}],"mark":{"type":"bar","size":83,"blend":"difference","fill":{"gradient":"linear","x1":0,"y1":0,"x2":1,"y2":0,"stops":[{"offset":0,"color":"#000"},{"offset":0.05,"color":"#000"},{"offset":0.05,"color":"#fff"},{"offset":0.1,"color":"#fff"},{"offset":0.1,"color":"#000"},{"offset":0.15,"color":"#000"},{"offset":0.15,"color":"#fff"},{"offset":0.2,"color":"#fff"},{"offset":0.2,"color":"#000"},{"offset":0.25,"color":"#000"},{"offset":0.25,"color":"#fff"},{"offset":0.3,"color":"#fff"},{"offset":0.3,"color":"#000"},{"offset":0.35,"color":"#000"},{"offset":0.35,"color":"#fff"},{"offset":0.4,"color":"#fff"},{"offset":0.4,"color":"#000"},{"offset":0.45,"color":"#000"},{"offset":0.45,"color":"#fff"},{"offset":0.5,"color":"#fff"},{"offset":0.5,"color":"#000"},{"offset":0.55,"color":"#000"},{"offset":0.55,"color":"#fff"},{"offset":0.6,"color":"#fff"},{"offset":0.6,"color":"#000"},{"offset":0.65,"color":"#000"},{"offset":0.65,"color":"#fff"},{"offset":0.7,"color":"#fff"},{"offset":0.7,"color":"#000"},{"offset":0.75,"color":"#000"},{"offset":0.75,"color":"#fff"},{"offset":0.8,"color":"#fff"},{"offset":0.8,"color":"#000"},{"offset":0.85,"color":"#000"},{"offset":0.85,"color":"#fff"},{"offset":0.9,"color":"#fff"},{"offset":0.9,"color":"#000"},{"offset":0.95,"color":"#000"},{"offset":0.95,"color":"#fff"},{"offset":1,"color":"#fff"}]}},
    "encoding":{"y":{"field":"v","type":"quantitative"}}},
   {"mark":{"type":"bar","size":83,"fill":"transparent","stroke":"#000","strokeWidth":2},"encoding":{"y":{"field":"v","type":"quantitative"}}},
   {"mark":{"type":"rule","color":"#000","strokeWidth":1.5},"encoding":{"y":{"field":"v","type":"quantitative"},"y2":{"field":"hi"}}},
   {"mark":{"type":"tick","color":"#000","size":42,"thickness":1.5},"encoding":{"y":{"field":"hi","type":"quantitative"}}},
   {"data":{"name":"bracket"},"mark":{"type":"line","color":"#000","strokeWidth":2},"encoding":{"y":{"field":"y","type":"quantitative"},"order":{"field":"o"}}},
   {"data":{"values":[{"g":"DMD","y":24.4,"t":"*"}]},"mark":{"type":"text","fontWeight":"bold","fontSize":18,"dx":62,"color":"#000"},"encoding":{"y":{"field":"y","type":"quantitative"},"text":{"field":"t"}}}
  ]}
 ]}
]}
]}
